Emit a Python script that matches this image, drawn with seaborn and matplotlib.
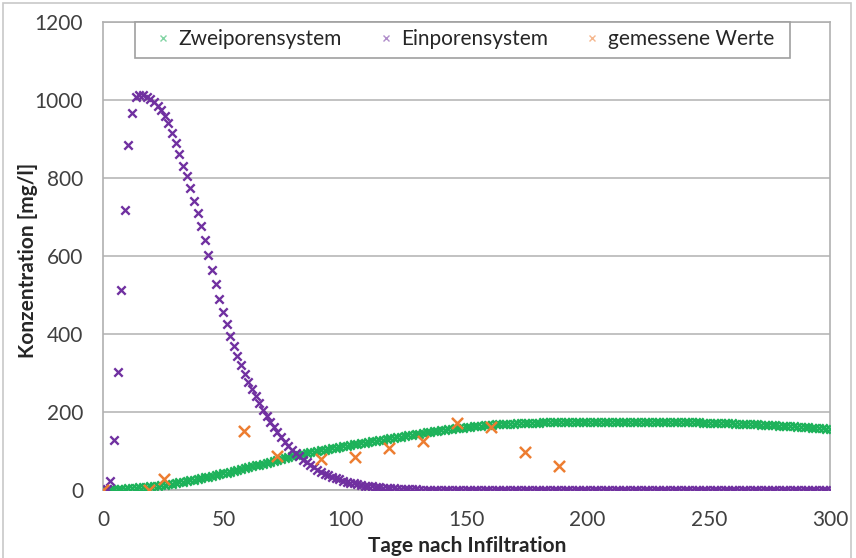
import numpy as np
import pandas as pd
import matplotlib
matplotlib.use("Agg")
import matplotlib.pyplot as plt
from matplotlib.lines import Line2D
from matplotlib.patches import Rectangle
import seaborn as sns

# ---------------- data ----------------
step_days = 1.5  # simulation output interval

zweiporen = [
    0, 0.5, 1, 1.5, 2, 3, 3.5, 4, 5, 6,
    6.5, 7.5, 8, 9, 10, 11, 12.5, 13.5, 15, 16.5,
    18, 19.5, 21, 23, 24.5, 26.5, 28.5, 30.5, 32.5, 34.5,
    36.5, 38.5, 40.5, 42.5, 44.5, 46.5, 49, 51, 53.5, 55.5,
    58, 60.5, 63, 65, 67.5, 70, 72.5, 75, 77, 79.5,
    81.5, 84, 86, 88.5, 90.5, 92.5, 94.5, 96.5, 98, 100,
    102, 103.5, 105, 107, 108.5, 110, 112, 113.5, 115, 117,
    118.5, 120, 121.5, 123, 124.5, 126, 127.5, 129, 131, 132.5,
    134, 135.5, 137, 138.5, 140, 141.5, 143, 144.5, 146, 147.5,
    149, 150.5, 152, 153.5, 155, 156, 157, 158, 159, 160,
    161, 162, 163, 164, 165, 165.5, 166.5, 167, 168, 168.5,
    169, 169.5, 170, 170.5, 171, 171.5, 172, 172, 172.5, 173,
    173, 173.5, 173.5, 174, 174, 174, 174, 174.5, 174.5, 174.5,
    174.5, 174.5, 174.5, 174.5, 174.5, 174.5, 174.5, 174.5, 174.5, 174.5,
    174.5, 174.5, 174.5, 174.5, 174.5, 174.5, 174.5, 174.5, 174.5, 174.5,
    174.5, 174.5, 174.5, 174.5, 174.5, 174.5, 174.5, 174.5, 174.5, 174.5,
    174.5, 174, 174, 173.5, 173.5, 173, 173, 172.5, 172.5, 172,
    172, 171.5, 171, 171, 170.5, 170, 169.5, 169, 169, 168.5,
    168, 167.5, 167, 166.5, 166, 165.5, 165, 164.5, 164, 163.5,
    163, 162.5, 161.5, 161, 160.5, 160, 159, 158.5, 158, 157,
    156,
]

einporen = [
    0, 3, 23, 128, 303, 513, 718, 885, 967, 1008,
    1013, 1012, 1008, 1002, 994, 985, 974, 960, 942, 916,
    890, 862, 830, 804, 774, 742, 710, 676, 640, 602,
    565, 527, 490, 457, 425, 395, 369, 344, 320, 298,
    278, 258, 240, 222, 206, 190, 175, 161, 148, 136,
    124, 113, 103, 94, 86, 78, 71, 64, 58, 52,
    47, 42, 38, 34, 30, 27, 24, 21, 19, 17,
    15, 13, 11.5, 10, 9, 8, 7, 6, 5, 4.5,
    4, 3.5, 3, 2.5, 2, 1.8, 1.5, 1.2, 1, 0.8,
    0.6, 0.5, 0.4, 0.3, 0.2, 0.1, 0, 0, 0, 0,
    0, 0, 0, 0, 0, 0, 0, 0, 0, 0,
    0, 0, 0, 0, 0, 0, 0, 0, 0, 0,
    0, 0, 0, 0, 0, 0, 0, 0, 0, 0,
    0, 0, 0, 0, 0, 0, 0, 0, 0, 0,
    0, 0, 0, 0, 0, 0, 0, 0, 0, 0,
    0, 0, 0, 0, 0, 0, 0, 0, 0, 0,
    0, 0, 0, 0, 0, 0, 0, 0, 0, 0,
    0, 0, 0, 0, 0, 0, 0, 0, 0, 0,
    0, 0, 0, 0, 0, 0, 0, 0, 0, 0,
    0, 0, 0, 0, 0, 0, 0, 0, 0, 0,
    0,
]

mess_tage = [0, 19, 25, 58, 72, 90, 104, 118, 132, 146, 160, 174, 188]
mess_werte = [0, 0, 28, 152, 87, 79, 85, 108, 125, 173, 162, 97, 62]

series_names = ["Zweiporensystem", "Einporensystem", "gemessene Werte"]
colors = ["#1DB25A", "#7030A0", "#ED7D31"]
x_ticks = [0, 50, 100, 150, 200, 250, 300]
y_ticks = [0, 200, 400, 600, 800, 1000, 1200]

# ---------------- figure ----------------
sns.set_theme(style="white")
plt.rcParams["font.family"] = ["Lato", "DejaVu Sans"]

fig = plt.figure(figsize=(8.56, 5.58), dpi=100)
fig.patches.append(Rectangle((3 / 856, -0.05), 848 / 856, 1.05 - 3 / 558,
                             transform=fig.transFigure, fill=False,
                             edgecolor="#C8C8C8", linewidth=1.2))
ax = fig.add_axes([103 / 856, 68 / 558, 727 / 856, 468 / 558])

df_z = pd.DataFrame({"Tage": np.arange(len(zweiporen)) * step_days, "Wert": zweiporen})
df_e = pd.DataFrame({"Tage": np.arange(len(einporen)) * step_days, "Wert": einporen})
df_m = pd.DataFrame({"Tage": mess_tage, "Wert": mess_werte})

sns.scatterplot(data=df_z, x="Tage", y="Wert", ax=ax, marker="x", s=36,
                color=colors[0], linewidth=1.7, zorder=3, legend=False)
sns.scatterplot(data=df_e, x="Tage", y="Wert", ax=ax, marker="x", s=36,
                color=colors[1], linewidth=1.7, zorder=4, legend=False)
sns.scatterplot(data=df_m, x="Tage", y="Wert", ax=ax, marker="x", s=64,
                color=colors[2], linewidth=1.8, zorder=5, legend=False)

ax.set_xticks(x_ticks)
ax.set_yticks(y_ticks)
ax.set_xlim(0, 300)
ax.set_ylim(0, 1200)
ax.tick_params(axis="y", labelsize=15, labelcolor="#404040", color="#A0A0A0",
               length=4.3, width=1, direction="out", pad=10)
ax.tick_params(axis="x", labelsize=15, labelcolor="#404040", color="#A0A0A0",
               length=4.3, width=1, direction="out", pad=10)

ax.yaxis.grid(True, color="#B8B8B8", linewidth=1.2)
ax.xaxis.grid(False)
ax.set_axisbelow(True)
for side in ["left", "bottom", "right", "top"]:
    ax.spines[side].set_visible(True)
    ax.spines[side].set_color("#B0B0B0")
    ax.spines[side].set_linewidth(1.2)

ax.set_xlabel("Tage nach Infiltration", fontsize=15, fontweight="bold",
              color="#262626")
ax.set_ylabel("Konzentration [mg/l]", fontsize=15, fontweight="bold",
              color="#262626")
ax.xaxis.set_label_coords(364 / 727, (490 - 536) / 468)
ax.yaxis.set_label_coords((38 - 103) / 727, 0.49)

# legend box as drawn in the reference (wider left margin)
ax.add_patch(Rectangle((32 / 727, 1 - 36 / 468), 655 / 727, 36 / 468,
                       transform=ax.transAxes, facecolor="white",
                       edgecolor="#A0A0A0", linewidth=1.2, zorder=9,
                       clip_on=False))
handles = [Line2D([], [], linestyle="none", marker="x", markersize=5,
                  markeredgewidth=1.0, color=c, alpha=0.55) for c in colors]
leg = ax.legend(handles, series_names, loc="upper center",
                bbox_to_anchor=(362 / 727, 1.0),
                ncol=3, fontsize=15, frameon=False,
                borderaxespad=0, handlelength=0.7,
                handletextpad=0.4, borderpad=0.35, columnspacing=1.75)
leg.set_zorder(10)

fig.savefig("out.png", dpi=100)
